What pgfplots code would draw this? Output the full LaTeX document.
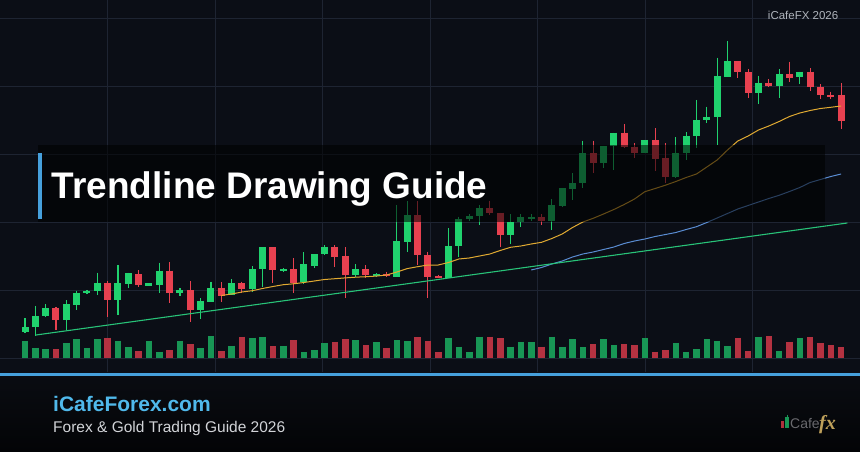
\documentclass[border=0pt]{standalone}
\usepackage{pgfplots}
\pgfplotsset{compat=1.18}
\usepackage{pgfplotstable}
\usepackage{fontspec}
\setmainfont{Liberation Sans}
\newfontfamily\logoserif{Liberation Serif}

\definecolor{bgc}{RGB}{11,14,22}
\definecolor{gridc}{RGB}{30,36,50}
\definecolor{cg}{RGB}{32,210,110}
\definecolor{cr}{RGB}{232,65,80}
\definecolor{vg}{RGB}{24,150,85}
\definecolor{vr}{RGB}{180,50,65}
\definecolor{mayel}{RGB}{225,170,50}
\definecolor{mablue}{RGB}{90,140,210}
\definecolor{trend}{RGB}{40,195,120}
\definecolor{accent}{RGB}{70,160,220}
\definecolor{site}{RGB}{80,185,235}
\definecolor{subtxt}{RGB}{210,212,216}
\definecolor{toptxt}{RGB}{175,180,188}
\definecolor{logogray}{RGB}{105,105,110}
\definecolor{logogold}{RGB}{190,160,90}

% candles: pixel-scale prices (top-down), i = candle index
\pgfplotstableread{
i o h l c v
0 331.7 318 333 327.3 340.7
1 327 306 336 316 347.7
2 316 304 316.7 308.3 349.3
4 320 300 330 304 342.7
5 305 290.7 310 292.7 339.3
6 293.3 290 294 290.7 347.7
7 291 272.7 295 282.7 339.3
9 300 265 315 283.3 340.7
10 284 272.7 288.3 273.3 347.3
12 285.7 283 286 283.3 340.7
13 284.7 262.7 293.3 270.7 351.7
15 292.7 288 296 290 340.7
17 310 298.3 319.3 300.7 348
18 301.7 281.7 302 287.7 336
20 295 279 295 283.3 345.7
22 289.3 266 291.7 269 337.7
23 269.3 247 286.7 247.3 336.7
25 271 268 272 269 345.7
27 282.3 252.3 284 264.3 352.3
28 265.7 254 268.3 254 350
29 254 245 255 247.3 343.3
32 275 264 277.3 269 340
34 276 273 277 274 342.3
36 277.3 205 277.3 241 340
37 241.7 201 251.7 215 341
41 278 228.3 278 246 338.3
42 246 216.7 256.7 219 346.7
43 219.3 214 220.7 216 351.7
44 216 205 225 208.3 336.7
47 235 214 244 221.7 346.7
48 221.7 214 227.3 217.3 341.7
49 219.3 214 220.7 217.3 342.3
51 220.7 199.3 230 205 336.7
52 206 188.3 206.7 188.3 346.7
53 189.3 173.3 200 183.3 339
54 183.3 140.7 188.3 153.3 347.3
56 162.7 146 168.3 146 339.3
57 146 132.7 170 132.7 345
60 153.3 140 153.3 140 338.3
63 176.7 137.3 178.3 153.3 342.7
64 153.3 132.3 160 135.7 351.7
65 135.7 100 148.3 120 349
66 120 106.7 123.3 116.7 339.3
67 116.7 57.7 145 76 340.7
68 76.7 41 76.7 61 346
71 93.3 75.7 104.3 82.7 336.7
73 85.7 69 98.3 74.3 350.7
75 76.7 71.7 84.3 71.7 338.3
}\upt

\pgfplotstableread{
i o h l c v
3 307.7 307 330 320 349.3
8 282.7 280.7 316.7 300 337.7
11 274 270 287.3 285.3 351
14 270.7 262.3 302.7 292.7 350
16 290 281 321.7 310 344
19 287.7 282.3 301.7 295.7 351
21 283.3 281.7 293.3 289.3 336.7
24 247.3 247 283.3 270 346
26 269 258.3 292.7 283.3 340
30 247.3 245 266.7 256.7 341.7
31 256 247.3 298.3 275 339
33 269 265 278.3 275 345
35 274.3 271.7 277.3 276 347.7
38 215 201 265 255 337.3
39 255 251.7 298.3 277.3 340.7
40 276 275 278.3 278 351.7
45 208.3 200.7 215 213.3 336.7
46 212.7 212.7 247.3 235 338.3
50 217.3 214 225 220.7 346.7
55 153.3 140.7 173.3 162.7 344.3
58 132.7 124 148.3 146.7 344
59 146.7 143.3 158.3 153.3 345
61 140 128.3 170.7 159.3 351.7
62 158.3 143.3 182.7 176.7 350
69 61 61 78.3 72.3 337.7
70 72.3 69 98.3 93.3 350.7
72 82.7 79 86.7 85.7 336
74 74.3 61.7 81.7 77.7 341.7
76 71.7 68.3 91 86.7 337.3
77 86.7 84.3 99 95 343.3
78 95 91.7 99 97.3 345
79 95 83.3 129 121 347.3
}\dnt

\pgfplotstableread{
i y
19 295.5
20 294
21 292
22 290.7
23 288.5
24 286.5
25 284.7
26 283.8
27 282.5
28 281
29 279.5
30 278.7
31 277.9
32 277.2
33 276.7
34 276.1
35 275
36 272
37 268.6
38 266.7
39 265
40 265
41 262.5
42 259
43 258
44 256
45 254
46 250.5
47 247.3
48 246
49 244
50 242.3
51 238.5
52 234
53 227.5
54 222
55 218.3
56 214
57 209.5
58 204.5
59 199
60 191.7
61 188.5
62 185.2
63 181.5
64 177.5
65 174
66 167
67 160
68 150
69 141
70 136
71 130
72 126
73 121.5
74 116.5
75 113
76 110.5
77 108.5
78 107.3
79 106
}\maA

\pgfplotstableread{
i y
49 270
50 267.5
51 264
52 261
53 257
54 254
55 252
56 249.5
57 247
58 243.5
59 241
60 239
61 236.5
62 234.5
63 232.5
64 229.5
65 226.7
66 222.5
67 218
68 213.5
69 209
70 205.5
71 202
72 198.5
73 195.3
74 191.5
75 187.5
76 182.5
77 179.5
78 176.5
79 174
}\maB

\pgfplotsset{baselayer/.style={width=860pt,height=452pt,scale only axis,hide axis,
  ymin=0,ymax=452,y dir=reverse},
  barplot/.style 2 args={draw=none, mark=none, error bars/.cd, y dir=plus, y explicit, error mark=none,
  error bar style={line width=#1, draw=#2, line cap=butt}}}

\begin{document}
\begin{tikzpicture}
% ---------- background layer (pixel coordinates)
\begin{axis}[baselayer, xmin=0, xmax=860]
\fill[bgc] (axis cs:0,0) rectangle (axis cs:860,374);
\shade[top color={rgb,255:red,10;green,12;blue,18}, bottom color={rgb,255:red,3;green,4;blue,6}] (axis cs:0,374) rectangle (axis cs:860,452);
\draw[gridc, line width=0.8pt] (axis cs:107.5,0) -- (axis cs:107.5,372);
\draw[gridc, line width=0.8pt] (axis cs:215,0) -- (axis cs:215,372);
\draw[gridc, line width=0.8pt] (axis cs:322.5,0) -- (axis cs:322.5,372);
\draw[gridc, line width=0.8pt] (axis cs:430,0) -- (axis cs:430,372);
\draw[gridc, line width=0.8pt] (axis cs:537.5,0) -- (axis cs:537.5,372);
\draw[gridc, line width=0.8pt] (axis cs:645,0) -- (axis cs:645,372);
\draw[gridc, line width=0.8pt] (axis cs:752.5,0) -- (axis cs:752.5,372);
\draw[gridc, line width=0.8pt] (axis cs:0,18) -- (axis cs:860,18);
\draw[gridc, line width=0.8pt] (axis cs:0,86) -- (axis cs:860,86);
\draw[gridc, line width=0.8pt] (axis cs:0,154) -- (axis cs:860,154);
\draw[gridc, line width=0.8pt] (axis cs:0,222) -- (axis cs:860,222);
\draw[gridc, line width=0.8pt] (axis cs:0,290) -- (axis cs:860,290);
\draw[gridc, line width=0.8pt] (axis cs:0,358) -- (axis cs:860,358);
\fill[accent] (axis cs:0,372.8) rectangle (axis cs:860,376);
\end{axis}

% ---------- data layer (candle index on x)
\begin{axis}[baselayer, xmin=-2.4201, xmax=80.8277]
% volume
\addplot[barplot={6.6pt}{vg}] table[x=i, y=v, y error expr=358-\thisrow{v}] {\upt};
\addplot[barplot={6.6pt}{vr}] table[x=i, y=v, y error expr=358-\thisrow{v}] {\dnt};
% wicks
\addplot[barplot={1.1pt}{cg}] table[x=i, y=h, y error expr=\thisrow{l}-\thisrow{h}] {\upt};
\addplot[barplot={1.1pt}{cr}] table[x=i, y=h, y error expr=\thisrow{l}-\thisrow{h}] {\dnt};
% bodies
\addplot[barplot={7pt}{cg}] table[x=i, y=c, y error expr=\thisrow{o}-\thisrow{c}] {\upt};
\addplot[barplot={7pt}{cr}] table[x=i, y=o, y error expr=\thisrow{c}-\thisrow{o}] {\dnt};
% moving averages and trendline
\addplot[mablue, line width=1pt, mark=none] table[x=i, y=y] {\maB};
\addplot[trend, line width=1.1pt, mark=none] coordinates {(1.06,335) (79.6,223)};
\addplot[mayel, line width=1pt, mark=none] table[x=i, y=y] {\maA};
\end{axis}

% ---------- overlay layer (pixel coordinates)
\begin{axis}[baselayer, xmin=0, xmax=860]
\fill[black, opacity=0.55] (axis cs:38,145) rectangle (axis cs:825,222);
\fill[accent] (axis cs:38,153) rectangle (axis cs:41.5,219);
\node[anchor=base west, inner sep=0pt, text=white, font=\bfseries\fontsize{37}{44}\selectfont] at (axis cs:51.5,198) {Trendline Drawing Guide};
\node[anchor=base east, inner sep=0pt, text=toptxt, font=\fontsize{11.5}{13}\selectfont] at (axis cs:838.5,19.5) {iCafeFX 2026};
\node[anchor=base west, inner sep=0pt, text=site, font=\bfseries\fontsize{21}{24}\selectfont] at (axis cs:53,411.3) {iCafeForex.com};
\node[anchor=base west, inner sep=0pt, text=subtxt, font=\fontsize{15.5}{18}\selectfont] at (axis cs:53,432.5) {Forex \& Gold Trading Guide 2026};
% logo
\fill[cr!75!black] (axis cs:780.7,420.7) rectangle (axis cs:783.5,428.3);
\fill[vg] (axis cs:785,416.7) rectangle (axis cs:789,428.3);
\draw[vg, line width=0.8pt] (axis cs:787,414.5) -- (axis cs:787,416.7);
\node[anchor=base west, inner sep=0pt, text=logogray, font=\fontsize{14}{16}\selectfont] at (axis cs:790,428.3) {Cafe};
\node[anchor=base west, inner sep=0pt, text=logogold, font=\logoserif\bfseries\itshape\fontsize{20}{22}\selectfont] at (axis cs:819,429) {fx};
\end{axis}
\end{tikzpicture}
\end{document}
